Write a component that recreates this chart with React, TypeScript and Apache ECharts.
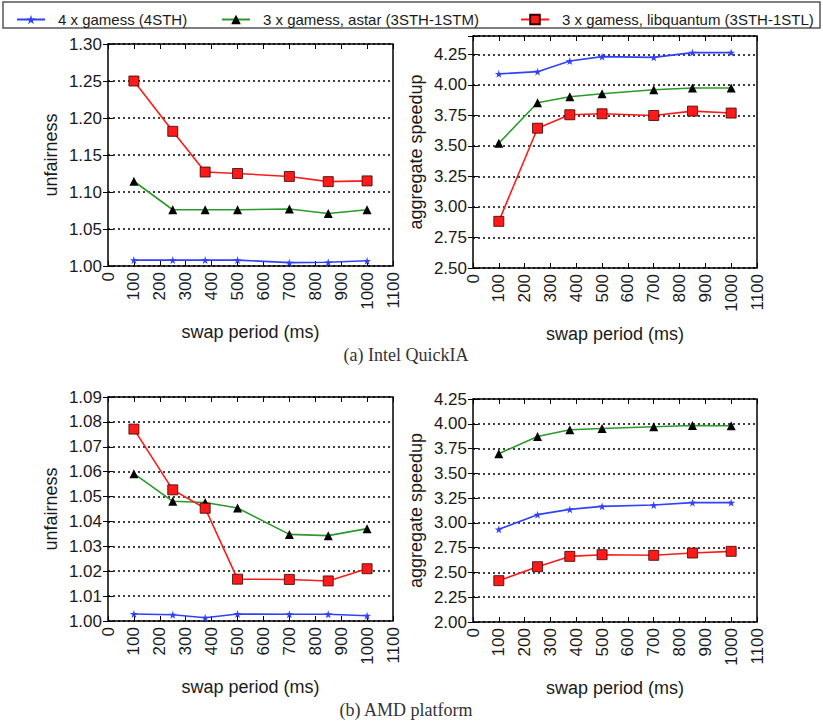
import React, { useEffect, useRef } from "react";
import * as echarts from "echarts";

const swapPeriods = [100, 250, 375, 500, 700, 850, 1000];
const xTicks = [0, 100, 200, 300, 400, 500, 600, 700, 800, 900, 1000, 1100];

const seriesNames = [
  "4 x gamess (4STH)",
  "3 x gamess, astar (3STH-1STM)",
  "3 x gamess, libquantum (3STH-1STL)",
];

const intelUnfair4STH = [1.008, 1.008, 1.008, 1.008, 1.0045, 1.005, 1.007];
const intelUnfairAstar = [1.1145, 1.076, 1.076, 1.076, 1.077, 1.071, 1.076];
const intelUnfairLibq = [1.25, 1.182, 1.127, 1.125, 1.121, 1.114, 1.115];

const intelSpeed4STH = [4.09, 4.108, 4.195, 4.231, 4.225, 4.264, 4.264];
const intelSpeedAstar = [3.522, 3.853, 3.903, 3.927, 3.96, 3.974, 3.974];
const intelSpeedLibq = [2.882, 3.645, 3.755, 3.763, 3.749, 3.785, 3.769];

const amdUnfair4STH = [1.0028, 1.0025, 1.0013, 1.0028, 1.0027, 1.0027, 1.0021];
const amdUnfairAstar = [1.0592, 1.0481, 1.0476, 1.0454, 1.0348, 1.0343, 1.0371];
const amdUnfairLibq = [1.0771, 1.0527, 1.0453, 1.0168, 1.0167, 1.0161, 1.021];

const amdSpeed4STH = [2.935, 3.083, 3.136, 3.167, 3.18, 3.204, 3.204];
const amdSpeedAstar = [3.698, 3.872, 3.94, 3.953, 3.97, 3.983, 3.98];
const amdSpeedLibq = [2.417, 2.558, 2.662, 2.679, 2.673, 2.696, 2.713];

const captions = ["(a) Intel QuickIA", "(b) AMD platform"];

const STAR =
  "path://M50,0 L61,35 L98,35 L68,57 L79,91 L50,70 L21,91 L32,57 L2,35 L39,35 Z";

const SANS = "'Liberation Sans', Arial, Helvetica, sans-serif";
const SERIF = "'Liberation Serif', 'Times New Roman', serif";

const BLUE = "#3040ff";
const GREEN = "#2a9a2a";
const RED = "#ff1a1a";

export default function App() {
  const ref = useRef<HTMLDivElement>(null);

  useEffect(() => {
    if (!ref.current) return;
    const chart = echarts.init(ref.current, undefined, { renderer: "svg" });

    const grids = [
      { left: 108, top: 44, width: 285, height: 222 },
      { left: 473, top: 36, width: 284, height: 232 },
      { left: 108, top: 397, width: 285, height: 224 },
      { left: 473, top: 399, width: 284, height: 223 },
    ];
    const yCfg = [
      { min: 1.0, max: 1.3, interval: 0.05, name: "unfairness", ticksMax: 1.3 },
      { min: 2.5, max: 4.4, interval: 0.25, name: "aggregate speedup", ticksMax: 4.25 },
      { min: 1.0, max: 1.09, interval: 0.01, name: "unfairness", ticksMax: 1.09 },
      { min: 2.0, max: 4.25, interval: 0.25, name: "aggregate speedup", ticksMax: 4.25 },
    ];
    const data = [
      [intelUnfair4STH, intelUnfairAstar, intelUnfairLibq],
      [intelSpeed4STH, intelSpeedAstar, intelSpeedLibq],
      [amdUnfair4STH, amdUnfairAstar, amdUnfairLibq],
      [amdSpeed4STH, amdSpeedAstar, amdSpeedLibq],
    ];

    const tick = { show: true, inside: true, length: 5, lineStyle: { color: "#000", width: 1 } };

    const xAxes: any[] = [];
    const yAxes: any[] = [];
    const series: any[] = [];

    grids.forEach((_, gi) => {
      xAxes.push({
        type: "value",
        gridIndex: gi,
        min: 0,
        max: 1100,
        interval: 100,
        position: "bottom",
        axisLine: { show: false },
        axisTick: tick,
        splitLine: { show: false },
        axisLabel: {
          rotate: 90,
          margin: 6,
          color: "#1a1a1a",
          fontFamily: SANS,
          fontSize: 17,
          formatter: (v: number) => (xTicks.includes(v) ? String(v) : ""),
        },
        name: "swap period (ms)",
        nameLocation: "middle",
        nameGap: 57,
        nameTextStyle: { fontFamily: SANS, fontSize: 18, color: "#1a1a1a" },
      });
      xAxes.push({
        type: "value",
        gridIndex: gi,
        min: 0,
        max: 1100,
        interval: 100,
        position: "top",
        axisLine: { show: false },
        axisTick: tick,
        splitLine: { show: false },
        axisLabel: { show: false },
      });
      const yc = yCfg[gi];
      yAxes.push({
        type: "value",
        gridIndex: gi,
        min: yc.min,
        max: yc.max,
        interval: yc.interval,
        position: "left",
        axisLine: { show: false },
        axisTick: tick,
        splitLine: {
          show: true,
          lineStyle: { color: "#000", type: [2, 3], width: 1.5 },
        },
        axisLabel: {
          margin: 6,
          color: "#1a1a1a",
          fontFamily: SANS,
          fontSize: 17,
          formatter: (v: number) => (v > yc.ticksMax + 1e-9 ? "" : v.toFixed(2)),
        },
        name: yc.name,
        nameLocation: "middle",
        nameGap: 48,
        nameTextStyle: { fontFamily: SANS, fontSize: 18, color: "#1a1a1a" },
      });
      yAxes.push({
        type: "value",
        gridIndex: gi,
        min: yc.min,
        max: yc.max,
        interval: yc.interval,
        position: "right",
        axisLine: { show: false },
        axisTick: tick,
        splitLine: { show: false },
        axisLabel: { show: false },
      });

      const d = data[gi];
      series.push({
        type: "line",
        name: seriesNames[0],
        xAxisIndex: gi * 2,
        yAxisIndex: gi * 2,
        data: swapPeriods.map((x, i) => [x, d[0][i]]),
        symbol: STAR,
        symbolSize: 8,
        showAllSymbol: true,
        lineStyle: { color: BLUE, width: 1.6 },
        itemStyle: { color: BLUE },
      });
      series.push({
        type: "line",
        name: seriesNames[1],
        xAxisIndex: gi * 2,
        yAxisIndex: gi * 2,
        data: swapPeriods.map((x, i) => [x, d[1][i]]),
        symbol: "triangle",
        symbolSize: 9,
        showAllSymbol: true,
        lineStyle: { color: GREEN, width: 1.6 },
        itemStyle: { color: "#000" },
      });
      series.push({
        type: "line",
        name: seriesNames[2],
        xAxisIndex: gi * 2,
        yAxisIndex: gi * 2,
        data: swapPeriods.map((x, i) => [x, d[2][i]]),
        symbol: "rect",
        symbolSize: 10,
        showAllSymbol: true,
        lineStyle: { color: RED, width: 1.6 },
        itemStyle: { color: RED, borderColor: "#3a0000", borderWidth: 0.8 },
      });
    });

    const legendBase = {
      top: 7,
      itemWidth: 28,
      itemHeight: 12,
      selectedMode: false,
      textStyle: { fontFamily: SANS, fontSize: 15, color: "#1a1a1a", padding: [0, 0, 0, 8] },
    };

    chart.setOption({
      animation: false,
      grid: grids.map((g) => ({
        ...g,
        show: true,
        borderColor: "#000",
        borderWidth: 1.5,
        backgroundColor: "transparent",
      })),
      xAxis: xAxes,
      yAxis: yAxes,
      legend: [
        { ...legendBase, left: 11, data: [seriesNames[0]] },
        { ...legendBase, left: 216, data: [seriesNames[1]] },
        { ...legendBase, left: 515, data: [seriesNames[2]] },
      ],
      graphic: [
        {
          type: "rect",
          shape: { x: 3, y: 2, width: 817, height: 26 },
          style: { fill: "none", stroke: "#555", lineWidth: 1.5 },
          silent: true,
        },
        {
          type: "text",
          x: 406,
          y: 355,
          style: {
            text: captions[0],
            font: `18px ${SERIF}`,
            fill: "#333",
            textAlign: "center",
            textVerticalAlign: "middle",
          },
        },
        {
          type: "text",
          x: 406,
          y: 710,
          style: {
            text: captions[1],
            font: `18px ${SERIF}`,
            fill: "#333",
            textAlign: "center",
            textVerticalAlign: "middle",
          },
        },
      ],
      series,
    });

    return () => {
      chart.dispose();
    };
  }, []);

  return (
    <div
      ref={ref}
      style={{ position: "absolute", left: 0, top: 0, width: 823, height: 722, background: "#fff" }}
    />
  );
}
